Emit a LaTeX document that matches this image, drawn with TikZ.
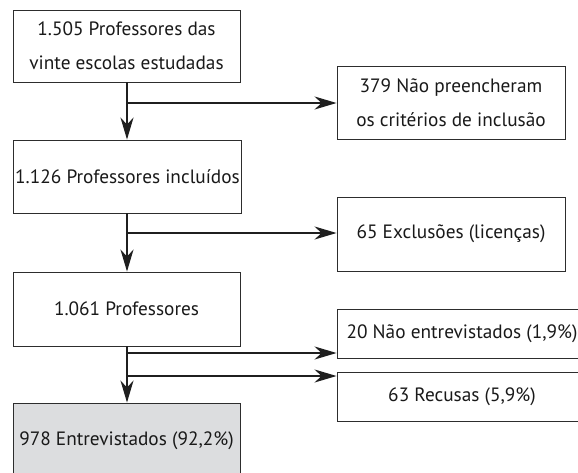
\documentclass[tikz,border=0pt]{standalone}
\usepackage{fontspec}
\setmainfont{PT Sans}
\usetikzlibrary{arrows.meta}
\definecolor{boxline}{RGB}{45,45,45}
\definecolor{boxgray}{RGB}{220,221,223}
\tikzset{
  box/.style={draw=boxline, line width=0.9pt, rectangle, inner sep=0pt, align=center,
    font=\fontsize{19.3}{34}\selectfont, text=black!90},
  conn/.style={line width=2pt, draw=black!88},
  arr/.style={conn, -{Stealth[length=22pt, width=13pt, inset=7pt]}}
}
\begin{document}
\begin{tikzpicture}[x=1pt, y=-1pt]
  \useasboundingbox (0,0) rectangle (578,472);
  \clip (0,0) rectangle (578,472);
  \node[box, minimum width=227pt, minimum height=72pt] (b1) at (126.5,46) {1.505 Professores das\\vinte escolas estudadas};
  \node[box, minimum width=228pt, minimum height=73pt] (b2) at (127.5,176.5) {1.126 Professores incluídos};
  \node[box, minimum width=227pt, minimum height=74pt] (b3) at (126.5,309) {1.061 Professores};
  \node[box, fill=boxgray, minimum width=227pt, minimum height=76pt] (b4) at (126.5,441) {978 Entrevistados (92,2\%)};
  \node[box, minimum width=228pt, minimum height=73pt] (r1) at (451,102.5) {379 Não preencheram\\os critérios de inclusão};
  \node[box, minimum width=228pt, minimum height=74pt] (r2) at (451,234) {65 Exclusões (licenças)};
  \node[box, minimum width=250pt, minimum height=49pt] (r3) at (462,333.5) {20 Não entrevistados (1,9\%)};
  \node[box, minimum width=250pt, minimum height=49pt] (r4) at (462,396.5) {63 Recusas (5,9\%)};
  \coordinate (j1) at (127,103);
  \coordinate (j2) at (127,233);
  \coordinate (j3) at (127,353);
  \coordinate (j4) at (127,376);
  \draw[arr] (b1.south -| j1) -- (b2.north -| j1);
  \draw[arr] (b2.south -| j2) -- (b3.north -| j2);
  \draw[arr] (b3.south -| j3) -- (b4.north -| j3);
  \draw[arr] (j1) -- (r1.west |- j1);
  \draw[arr] (j2) -- (r2.west |- j2);
  \draw[arr] (j3) -- (r3.west |- j3);
  \draw[arr] (j4) -- (r4.west |- j4);
\end{tikzpicture}
\end{document}
